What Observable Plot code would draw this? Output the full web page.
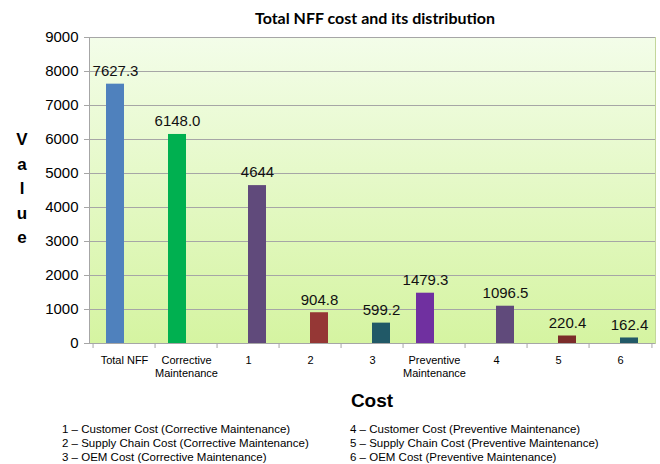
<!DOCTYPE html>
<html><head><meta charset="utf-8">
<script src="https://cdn.jsdelivr.net/npm/d3@7"></script>
<script src="https://cdn.jsdelivr.net/npm/@observablehq/plot@0.6"></script>
<style>
body{margin:0;background:#fff;}
#wrap{position:relative;width:660px;height:464px;font-family:"Liberation Sans",Arial,sans-serif;color:#000;overflow:hidden;}
#wrap svg{position:absolute;left:0;top:0;}
.abs{position:absolute;white-space:nowrap;}
#title{left:89px;width:572px;top:8px;text-align:center;font-family:Lato,"Open Sans",sans-serif;font-weight:bold;font-size:16px;}
#ylab{left:12px;width:20px;top:128px;text-align:center;font-weight:bold;font-size:17px;line-height:24.5px;}
#xlab{left:89px;width:566px;top:390px;text-align:center;font-weight:bold;font-size:19px;}
.leg{font-size:11.5px;line-height:14px;top:422px;}
</style></head><body><div id="wrap"></div>
<script>
// ---- data ----
const categories = ["Total NFF", "Corrective Maintenance", "1", "2", "3", "Preventive Maintenance", "4", "5", "6"];
const tickLabels = ["Total NFF", "Corrective\nMaintenance", "1", "2", "3", "Preventive\nMaintenance", "4", "5", "6"];
const values = [7627.3, 6148.0, 4644, 904.8, 599.2, 1479.3, 1096.5, 220.4, 162.4];
const valueLabels = ["7627.3", "6148.0", "4644", "904.8", "599.2", "1479.3", "1096.5", "220.4", "162.4"];
const groups = ["total", "total", "part", "part", "part", "total", "part", "part", "part"];
const colors = ["#4f81bd", "#00b050", "#604a7b", "#953735", "#215967", "#7030a0", "#604a7b", "#7b2c2a", "#215967"];
const yTicks = [0, 1000, 2000, 3000, 4000, 5000, 6000, 7000, 8000, 9000];
const titleText = "Total NFF cost and its distribution";
const yLabel = "Value";
const xLabel = "Cost";
const legendLeft = [
  "1 – Customer Cost (Corrective Maintenance)",
  "2 – Supply Chain Cost (Corrective Maintenance)",
  "3 – OEM Cost (Corrective Maintenance)"
];
const legendRight = [
  "4 – Customer Cost (Preventive Maintenance)",
  "5 – Supply Chain Cost (Preventive Maintenance)",
  "6 – OEM Cost (Preventive Maintenance)"
];

// ---- layout ----
const W = 660, H = 464, mL = 89, mR = 5, mT = 37, mB = 121;
const step = (W - mL - mR) / categories.length;
const barW = 18;
const pin = 1 - barW / step;

const data = categories.map((c, i) => ({cat: c, value: values[i], label: valueLabels[i], group: groups[i], color: colors[i]}));
const totals = data.filter(d => d.group === "total");
const parts = data.filter(d => d.group === "part");
const axisGray = "#a6a6a6";

const plot = Plot.plot({
  width: W, height: H,
  marginLeft: mL, marginRight: mR, marginTop: mT, marginBottom: mB,
  style: {fontFamily: '"Liberation Sans", Arial, sans-serif', fontSize: "15px", color: "#000", background: "transparent", overflow: "visible"},
  x: {domain: categories, paddingInner: pin, paddingOuter: pin / 2, label: null},
  y: {domain: [0, 9000], label: null},
  color: {type: "identity"},
  marks: [
    Plot.frame({fill: "url(#bgGrad)", stroke: "#c3d69b"}),
    Plot.gridY(yTicks, {stroke: axisGray, strokeOpacity: 1, strokeWidth: 1}),
    Plot.axisY(yTicks, {tickSize: 5, tickPadding: 6, stroke: axisGray, strokeOpacity: 1, fontSize: 15, label: null, tickFormat: d => String(d)}),
    Plot.axisX({tickSize: 5, dx: -step / 2, tickFormat: () => "", stroke: axisGray, strokeOpacity: 1, label: null}),
    Plot.axisX([categories[categories.length - 1]], {tickSize: 5, dx: step / 2, tickFormat: () => "", stroke: axisGray, strokeOpacity: 1, label: null}),
    Plot.axisX({tickSize: 0, tickPadding: 11, fontSize: 11, lineHeight: 1.2, label: null,
      tickFormat: d => tickLabels[categories.indexOf(d)]}),
    Plot.frame({anchor: "left", stroke: axisGray}),
    Plot.ruleY([0], {stroke: axisGray}),
    Plot.barY(totals, {x: "cat", y: "value", fill: "color", dx: -barW / 2}),
    Plot.barY(parts, {x: "cat", y: "value", fill: "color", dx: barW / 2}),
    Plot.text(totals, {x: "cat", y: "value", text: "label", dx: -barW / 2, dy: -13, fontSize: 15, fill: "#111"}),
    Plot.text(parts, {x: "cat", y: "value", text: "label", dx: barW / 2, dy: -13, fontSize: 15, fill: "#111"})
  ]
});

const svg = d3.select(plot);
const defs = svg.insert("defs", ":first-child");
const grad = defs.append("linearGradient").attr("id", "bgGrad")
  .attr("x1", 0).attr("y1", 0).attr("x2", 0).attr("y2", 1);
grad.append("stop").attr("offset", "0%").attr("stop-color", "#f3fde9");
grad.append("stop").attr("offset", "100%").attr("stop-color", "#d5f4a1");

const wrap = document.getElementById("wrap");
wrap.appendChild(plot);

function addDiv(id, cls, html, style) {
  const d = document.createElement("div");
  if (id) d.id = id;
  d.className = cls;
  d.innerHTML = html;
  if (style) Object.assign(d.style, style);
  wrap.appendChild(d);
  return d;
}
addDiv("title", "abs", titleText);
addDiv("ylab", "abs", yLabel.split("").join("<br>"));
addDiv("xlab", "abs", xLabel);
addDiv(null, "abs leg", legendLeft.join("<br>"), {left: "62px"});
addDiv(null, "abs leg", legendRight.join("<br>"), {left: "350px"});
</script>
</body></html>
